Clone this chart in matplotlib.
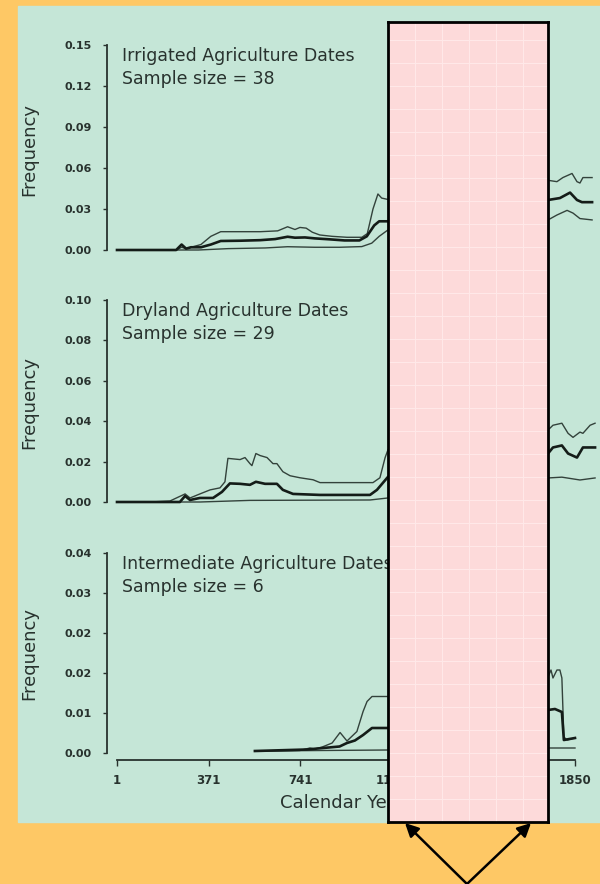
import numpy as np
import matplotlib.pyplot as plt
from matplotlib.patches import Rectangle, FancyArrowPatch
from matplotlib.ticker import FormatStrFormatter

plt.rcParams['font.family'] = ['DejaVu Sans']

# ---- data ----
x_ticks = [1, 371, 741, 1111, 1481, 1850]

irr_hi_yr = [1, 240, 262, 280, 300, 340, 380, 420, 500, 580, 650, 690, 720, 740, 765, 790, 820, 870,
             930, 990, 1012, 1035, 1055, 1070, 1095,
             1742, 1778, 1802, 1839, 1859, 1871, 1883, 1920]
irr_hi = [0, 0, 0.002, 0.001, 0.002, 0.004, 0.010, 0.0134, 0.0134, 0.0134, 0.014, 0.017, 0.015, 0.0165,
          0.016, 0.013, 0.011, 0.010, 0.0093, 0.0093, 0.012, 0.030, 0.041, 0.038, 0.037,
          0.051, 0.050, 0.053, 0.056, 0.050, 0.049, 0.053, 0.053]
irr_mid_yr = [1, 240, 262, 280, 300, 340, 380, 420, 500, 580, 640, 690, 720, 760, 800, 860, 920,
              980, 1010, 1040, 1060, 1095,
              1742, 1790, 1831, 1859, 1879, 1920]
irr_mid = [0, 0, 0.004, 0.001, 0.002, 0.002, 0.004, 0.0066, 0.0068, 0.0072, 0.008, 0.0097, 0.009,
           0.0092, 0.0085, 0.0078, 0.007, 0.007, 0.010, 0.018, 0.021, 0.021,
           0.0366, 0.038, 0.042, 0.0366, 0.035, 0.035]
irr_lo_yr = [1, 330, 450, 600, 690, 800, 900, 990, 1030, 1060, 1095,
             1742, 1778, 1819, 1843, 1871, 1920]
irr_lo = [0, 0, 0.001, 0.0015, 0.0024, 0.002, 0.002, 0.0025, 0.005, 0.010, 0.0146,
          0.022, 0.0256, 0.029, 0.027, 0.023, 0.022]

dry_hi_yr = [1, 134, 215, 276, 296, 336, 377, 417, 437, 449, 498, 518, 538, 546, 562, 579, 607,
             631, 647, 659, 671, 700, 740, 793, 821, 1035, 1063, 1084, 1096,
             1742, 1762, 1798, 1823, 1843, 1871, 1883, 1912, 1932]
dry_hi = [0, 0, 0.0005, 0.004, 0.002, 0.004, 0.006, 0.007, 0.010, 0.0216, 0.021, 0.022, 0.019,
          0.018, 0.024, 0.023, 0.022, 0.019, 0.019, 0.017, 0.015, 0.013, 0.012, 0.011, 0.0096,
          0.0096, 0.012, 0.022, 0.026,
          0.0356, 0.038, 0.039, 0.034, 0.032, 0.0346, 0.034, 0.038, 0.039]
dry_mid_yr = [1, 255, 276, 296, 336, 389, 425, 457, 498, 538, 562, 599, 647, 671, 712, 821, 1023,
              1051, 1096,
              1742, 1762, 1798, 1823, 1859, 1883, 1932]
dry_mid = [0, 0, 0.003, 0.001, 0.002, 0.002, 0.005, 0.0092, 0.009, 0.0085, 0.010, 0.009, 0.009,
           0.006, 0.004, 0.0035, 0.0035, 0.006, 0.0125,
           0.024, 0.027, 0.028, 0.024, 0.022, 0.027, 0.027]
dry_lo_yr = [1, 336, 538, 1023, 1096, 1742, 1798, 1871, 1932]
dry_lo = [0, 0, 0.0008, 0.001, 0.002, 0.0119, 0.0123, 0.0109, 0.0119]

int_hi_yr = [558, 740, 780, 800, 830, 870, 902, 930, 970, 995, 1011, 1031, 1095,
             1742, 1754, 1762, 1778, 1790, 1798, 1806, 1819, 1851]
int_hi = [0.0004, 0.0005, 0.001, 0.0008, 0.0012, 0.002, 0.0041, 0.0024, 0.0043, 0.0083, 0.0103,
          0.0113, 0.0113,
          0.0152, 0.0166, 0.015, 0.0166, 0.0166, 0.015, 0.0032, 0.0026, 0.003]
int_mid_yr = [558, 768, 900, 930, 962, 995, 1031, 1095, 1742, 1770, 1798, 1806, 1851]
int_mid = [0.0004, 0.0007, 0.0013, 0.002, 0.0025, 0.0036, 0.005, 0.005,
           0.0086, 0.0088, 0.0082, 0.0026, 0.003]
int_lo_yr = [558, 1095, 1742, 1851]
int_lo = [0.0004, 0.0006, 0.001, 0.001]

panels = [
    dict(title='Irrigated Agriculture Dates', n=38, top=45, zero=250, ymax=0.15,
         ticks=[0, 0.03, 0.06, 0.09, 0.12, 0.15], ylab_y=150,
         lines=[(irr_hi_yr, irr_hi), (irr_mid_yr, irr_mid), (irr_lo_yr, irr_lo)]),
    dict(title='Dryland Agriculture Dates', n=29, top=300, zero=502, ymax=0.10,
         ticks=[0, 0.02, 0.04, 0.06, 0.08, 0.10], ylab_y=403,
         lines=[(dry_hi_yr, dry_hi), (dry_mid_yr, dry_mid), (dry_lo_yr, dry_lo)]),
    dict(title='Intermediate Agriculture Dates', n=6, top=553, zero=753, ymax=0.04,
         ticks=list(np.linspace(0, 0.04, 6)), ylab_y=653,
         lines=[(int_hi_yr, int_hi), (int_mid_yr, int_mid), (int_lo_yr, int_lo)]),
]

# ---- figure ----
W, H = 600, 884
fig = plt.figure(figsize=(6, 8.84), dpi=100)
fig.patch.set_facecolor('#FEC865')

def px_rect(left, top, right, bottom):
    return [left / W, 1 - bottom / H, (right - left) / W, (bottom - top) / H]

ink = '#28322E'
thin_c = '#33423B'
thick_c = '#141C18'

# photographed slide area (behind everything)
fig.patches.append(Rectangle((18 / W, 1 - 822 / H), 582 / W, 816 / H,
                             transform=fig.transFigure, color='#C5E6D7', zorder=-5))

# x mapping: year 1 at x=117 px, 370 years per 91.6 px
px_per_year = 91.6 / 370
xmin = 1 - (117 - 107) / px_per_year
xmax = 1 + (600 - 117) / px_per_year

for i, p in enumerate(panels):
    ax = fig.add_axes(px_rect(107, p['top'], 600, p['zero']))
    ax.set_facecolor('none')
    ax.set_xlim(xmin, xmax)
    ax.set_ylim(0, p['ymax'])
    for s in ['top', 'right']:
        ax.spines[s].set_visible(False)
    ax.spines['left'].set_color(ink)
    ax.spines['left'].set_linewidth(1.3)
    ax.set_yticks(p['ticks'])
    ax.yaxis.set_major_formatter(FormatStrFormatter('%.2f'))
    ax.tick_params(axis='y', length=3, width=1, pad=8, colors=ink, labelsize=8)
    for lab in ax.get_yticklabels():
        lab.set_fontweight('bold')

    (hx, hy), (mx, my), (lx, ly) = p['lines']
    ax.plot(hx, hy, color=thin_c, lw=1.0, clip_on=False)
    ax.plot(lx, ly, color=thin_c, lw=1.0, clip_on=False)
    ax.plot(mx, my, color=thick_c, lw=1.9, clip_on=False)

    if i < 2:
        ax.spines['bottom'].set_visible(False)
        ax.set_xticks([])
    else:
        ax.spines['bottom'].set_position(('outward', 5))
        ax.spines['bottom'].set_bounds(1, 1850)
        ax.spines['bottom'].set_color(ink)
        ax.spines['bottom'].set_linewidth(1.3)
        ax.set_xticks(x_ticks)
        ax.set_xticklabels([str(t) for t in x_ticks], fontweight='bold')
        ax.tick_params(axis='x', length=4, width=1, pad=6, colors=ink, labelsize=8.5)

    fig.text(122 / W, 1 - (p['top'] + 11) / H, p['title'], fontsize=12.5, color=ink, va='center')
    fig.text(122 / W, 1 - (p['top'] + 34) / H, 'Sample size = %d' % p['n'],
             fontsize=12.5, color=ink, va='center')
    fig.text(29 / W, 1 - p['ylab_y'] / H, 'Frequency', rotation=90, fontsize=13,
             color=ink, ha='center', va='center')

fig.text(280 / W, 1 - 803 / H, 'Calendar Year', fontsize=13, color=ink, va='center')

# pink cover panel with black border and a faint grid
cover = fig.add_axes(px_rect(388, 22, 548, 822))
cover.set_zorder(10)
cover.set_facecolor('#FDDADA')
cover.set_xlim(0, 160)
cover.set_ylim(0, 800)
cover.set_xticks(np.arange(0, 160, 27))
cover.set_yticks(np.arange(0, 800, 23))
cover.grid(True, color='#FFE8E8', lw=0.8)
cover.tick_params(length=0, labelbottom=False, labelleft=False)
for s in cover.spines.values():
    s.set_color('black')
    s.set_linewidth(2)

# two arrows pointing at the bottom corners of the cover
for tip_x in [405, 531]:
    fig.add_artist(FancyArrowPatch((467 / W, 0.0), (tip_x / W, 1 - 823 / H),
                                   transform=fig.transFigure, arrowstyle='-|>',
                                   mutation_scale=20, lw=1.8, color='black',
                                   shrinkA=0, shrinkB=0, zorder=11))

fig.savefig('out.png', dpi=100, facecolor=fig.get_facecolor())
